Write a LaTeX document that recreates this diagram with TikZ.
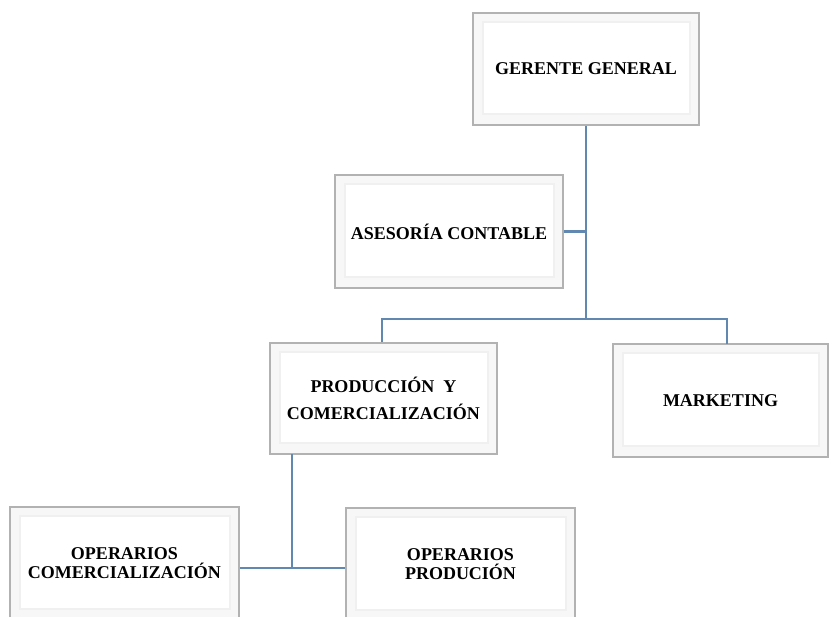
\documentclass[tikz,border=0pt]{standalone}
\usepackage{fontspec}
\setmainfont{Liberation Serif}
\usetikzlibrary{calc}
\definecolor{linkblue}{RGB}{96,136,176}
\tikzset{
  bevelbox/.style args={#1x#2}{
    draw=gray!60, line width=1.3pt, fill=gray!6,
    minimum width=#1pt, minimum height=#2pt, inner sep=0pt,
    align=center, font=\fontsize{18}{19}\selectfont\bfseries,
    path picture={
      \fill[white] ([shift={(10pt,-9pt)}]path picture bounding box.north west)
        rectangle ([shift={(-9pt,11pt)}]path picture bounding box.south east);
      \draw[gray!12, line width=1.5pt] ([shift={(10pt,-9pt)}]path picture bounding box.north west)
        rectangle ([shift={(-9pt,11pt)}]path picture bounding box.south east);
    }},
  link/.style={draw=linkblue, line width=2.8pt}
}
\begin{document}
\begin{tikzpicture}[x=1pt,y=-1pt]
\useasboundingbox (0,0) rectangle (830,617);
\fill[white] (0,0) rectangle (830,617);
\coordinate (bar) at (585,319);
\coordinate (mktop) at (727,344);
\coordinate (pdown) at (292,454);
\node[bevelbox=226x112] (ger) at (586,69) {GERENTE GENERAL};
\node[bevelbox=228x113] (ase) at (449,231.5) {ASESORÍA CONTABLE};
\node[bevelbox=227x111] (prod) at (383.5,398.5) {PRODUCCIÓN\ \ Y\\[8pt]COMERCIALIZACIÓN};
\node[bevelbox=215x113] (mkt) at (720.5,400.5) {MARKETING};
\node[bevelbox=229x113] (opc) at (124.5,563.5) {OPERARIOS\\COMERCIALIZACIÓN};
\node[bevelbox=229x113] (opp) at (460.5,564.5) {OPERARIOS\\PRODUCIÓN};
\draw[link] (ger.south) -- (ger.south |- bar);
\draw[link] (ase.east) -- (ase.east -| ger.south);
\draw[link] ($(prod.north)+(-1.5,0)$) |- (bar) -| (mktop);
\draw[link] (pdown) -- ($(pdown)+(0,114)$) coordinate (pj);
\draw[link] (opc.east |- pj) -- (opp.west |- pj);
\end{tikzpicture}
\end{document}
